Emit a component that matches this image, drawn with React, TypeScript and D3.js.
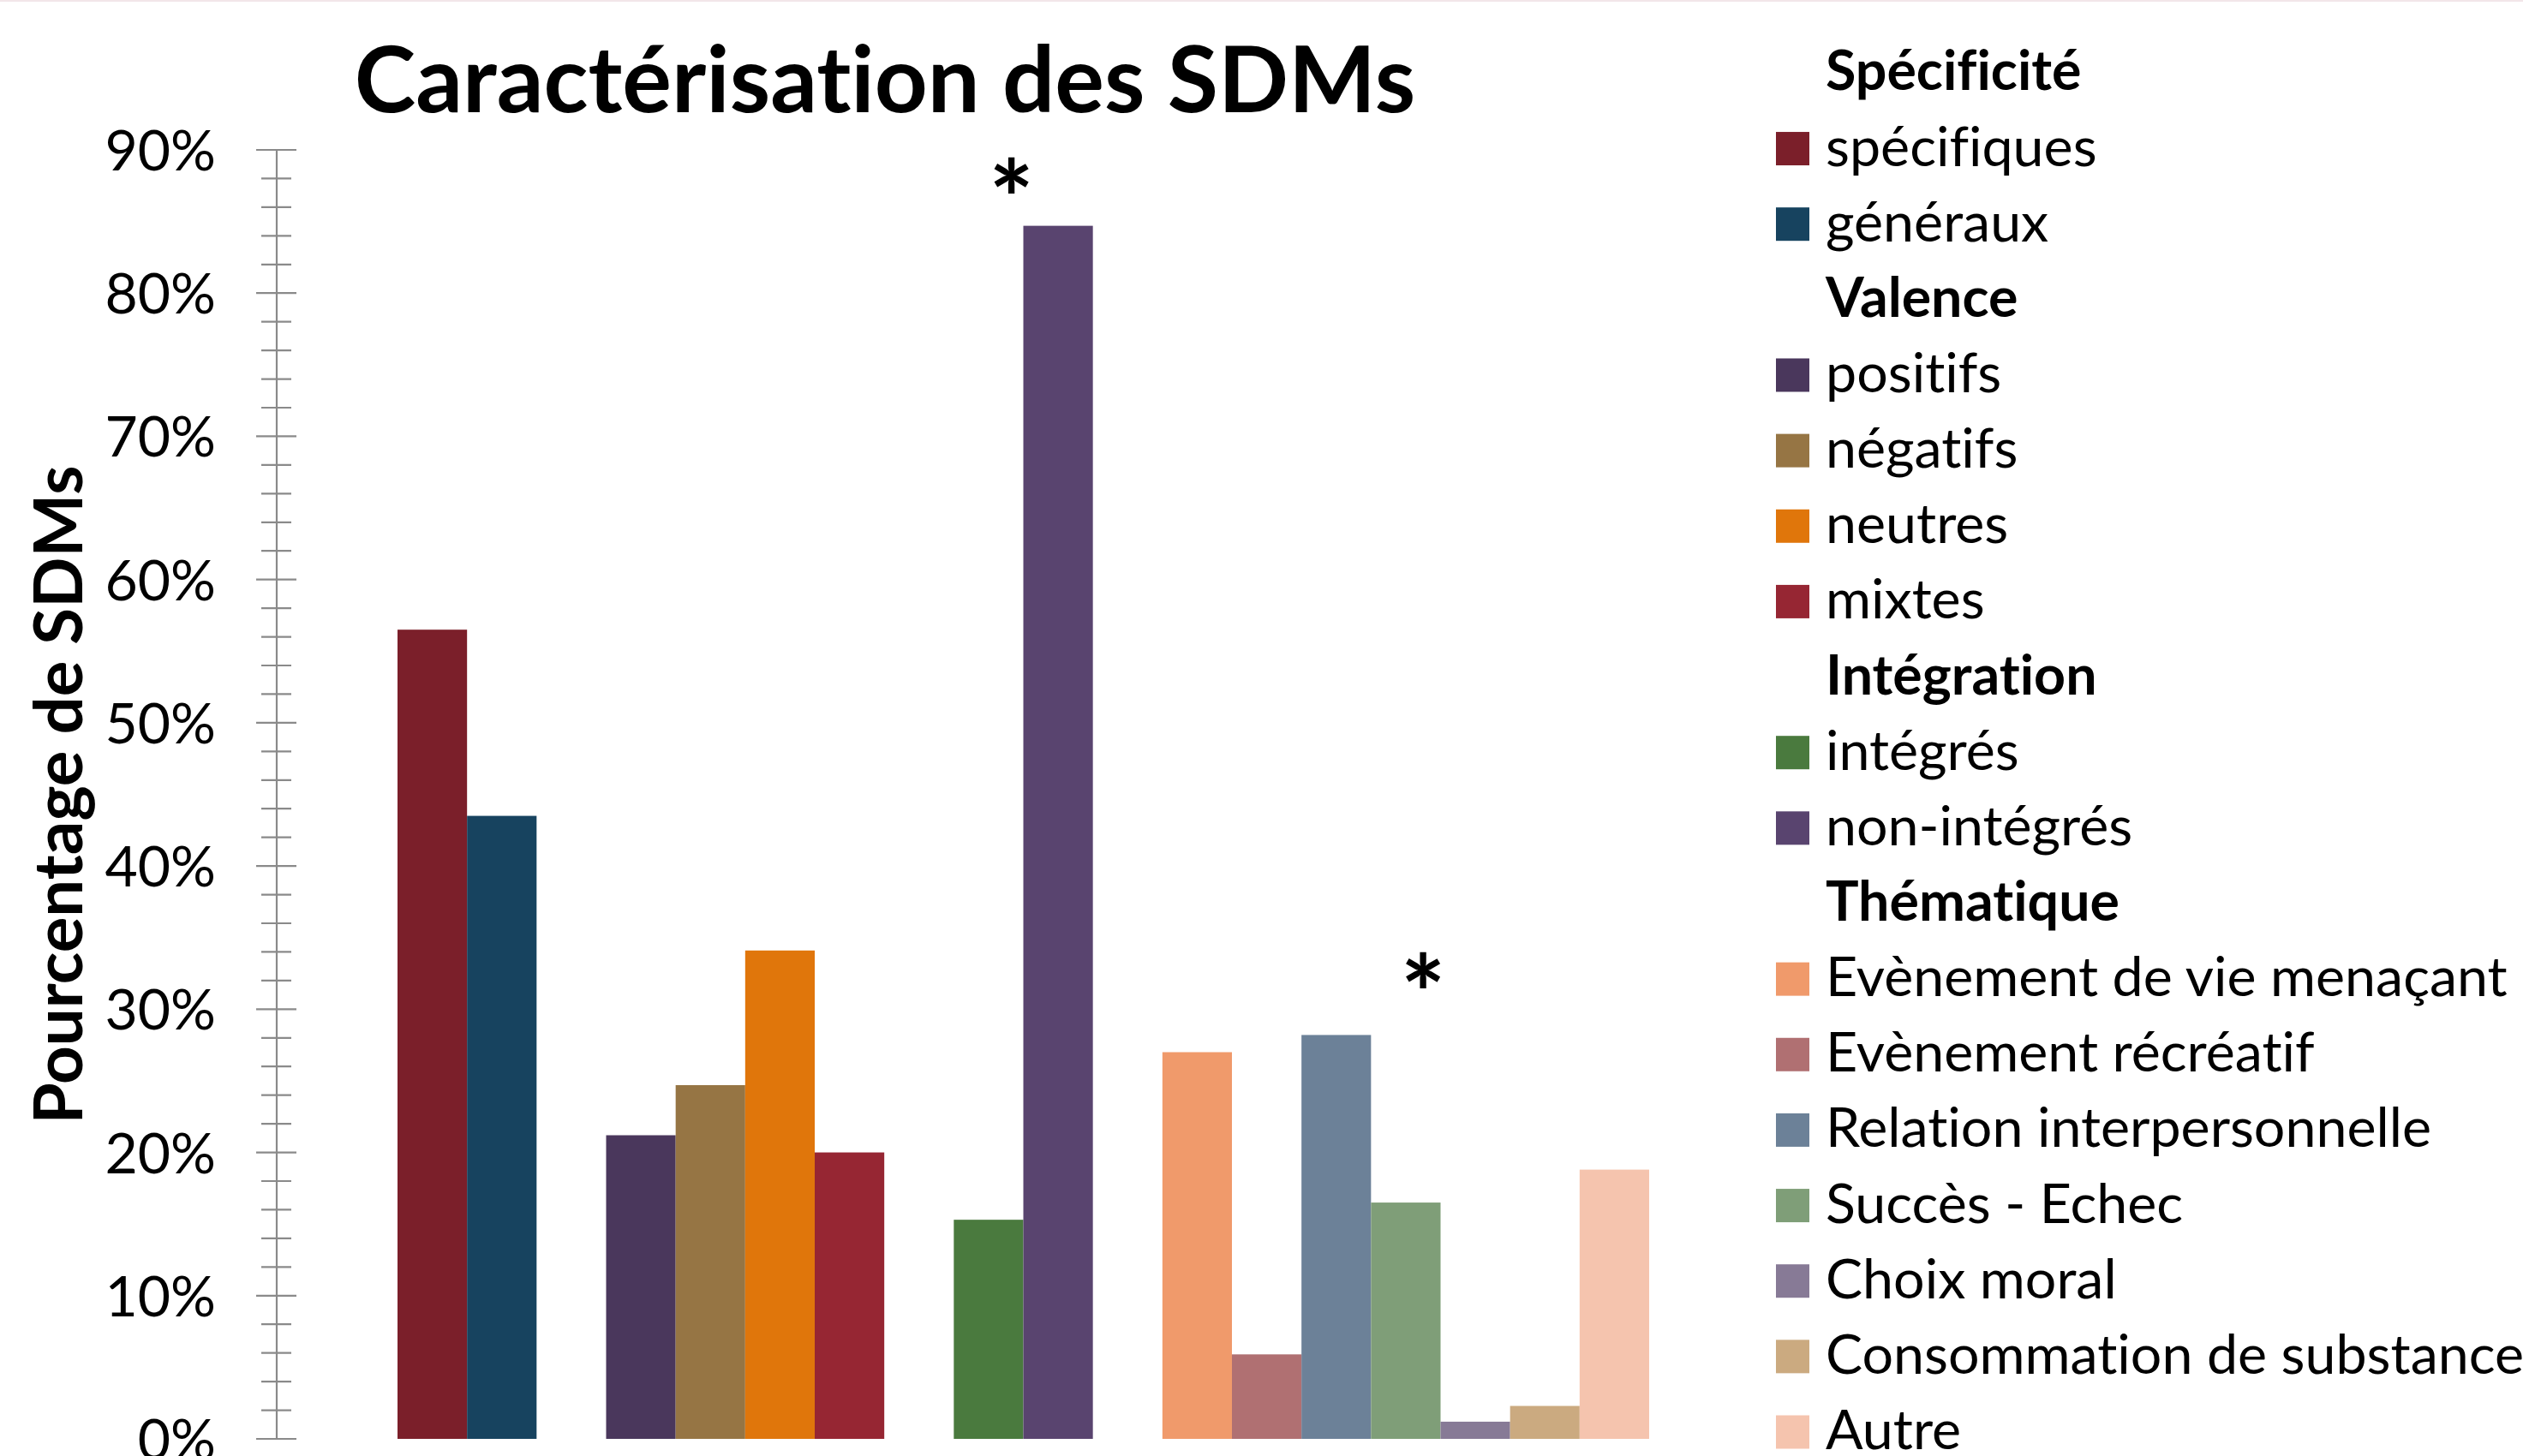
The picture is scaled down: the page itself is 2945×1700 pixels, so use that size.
import React from "react";
import * as d3 from "d3";

const W = 2945;
const H = 1700;

const chartTitle = "Caractérisation des SDMs";
const yAxisTitle = "Pourcentage de SDMs";

const groupTitles = ["Spécificité", "Valence", "Intégration", "Thématique"];

const specificiteLabels = ["spécifiques", "généraux"];
const specificiteValues = [56.5, 43.5];
const specificiteColors = ["#7B1F2A", "#17435F"];

const valenceLabels = ["positifs", "négatifs", "neutres", "mixtes"];
const valenceValues = [21.2, 24.7, 34.1, 20.0];
const valenceColors = ["#4A375C", "#967544", "#E0760B", "#962633"];

const integrationLabels = ["intégrés", "non-intégrés"];
const integrationValues = [15.3, 84.7];
const integrationColors = ["#4A7A3E", "#59446F"];

const thematiqueLabels = [
  "Evènement de vie menaçant",
  "Evènement récréatif",
  "Relation interpersonnelle",
  "Succès - Echec",
  "Choix moral",
  "Consommation de substance",
  "Autre",
];
const thematiqueValues = [27.0, 5.9, 28.2, 16.5, 1.2, 2.3, 18.8];
const thematiqueColors = ["#F09A6B", "#B07072", "#6C8198", "#7F9E78", "#877A96", "#CBAA80", "#F5C4AE"];

const yTickValues = [0, 10, 20, 30, 40, 50, 60, 70, 80, 90];
const yMinorStep = 2;

// significance markers: bar key, horizontal offset as fraction of bar width, height in %
const markerBars = ["non-intégrés", "Succès - Echec"];
const markerOffsets = [-0.17, 0.75];
const markerValues = [87.9, 32.4];

type Bar = { key: string; value: number; color: string };

const groups: { title: string; bars: Bar[] }[] = [
  { title: groupTitles[0], bars: specificiteLabels.map((k, i) => ({ key: k, value: specificiteValues[i], color: specificiteColors[i] })) },
  { title: groupTitles[1], bars: valenceLabels.map((k, i) => ({ key: k, value: valenceValues[i], color: valenceColors[i] })) },
  { title: groupTitles[2], bars: integrationLabels.map((k, i) => ({ key: k, value: integrationValues[i], color: integrationColors[i] })) },
  { title: groupTitles[3], bars: thematiqueLabels.map((k, i) => ({ key: k, value: thematiqueValues[i], color: thematiqueColors[i] })) },
];

const FONT = "Lato, 'Open Sans', sans-serif";

export default function App() {
  const slots: string[] = [];
  groups.forEach((g, gi) => {
    if (gi > 0) slots.push(`__gap${gi}`);
    g.bars.forEach((b) => slots.push(b.key));
  });
  const allBars: Bar[] = groups.flatMap((g) => g.bars);

  const axisX = 323;
  const x = d3.scaleBand<string>().domain(slots).range([464, 1925]).paddingInner(0).paddingOuter(0);
  const y = d3.scaleLinear().domain([0, 90]).range([1680, 175]);

  const minorTicks = d3.range(0, 90 + 0.001, yMinorStep).filter((v) => Math.abs(v % 10) > 0.001);

  type Row = { kind: "header" | "item"; label: string; color?: string };
  const rows: Row[] = [];
  groups.forEach((g) => {
    rows.push({ kind: "header", label: g.title });
    g.bars.forEach((b) => rows.push({ kind: "item", label: b.key, color: b.color }));
  });
  const legendY = d3.scaleLinear().domain([0, rows.length - 1]).range([85.4, 1672]);

  return (
    <svg
      width={W}
      height={H}
      viewBox={`0 0 ${W} ${H}`}
      style={{ position: "absolute", left: 0, top: 0, background: "#fff", fontVariantLigatures: "none" }}
      fontFamily={FONT}
    >
      <rect x={0} y={0} width={W} height={H} fill="#ffffff" />
      <rect x={0} y={0} width={W} height={2} fill="#f2e6e9" />

      <text x={1033} y={131} textAnchor="middle" fontSize={108} fontWeight={700} fill="#000">
        {chartTitle}
      </text>

      <text
        transform={`translate(96, 928) rotate(-90)`}
        textAnchor="middle"
        fontSize={78}
        fontWeight={700}
        fill="#000"
      >
        {yAxisTitle}
      </text>

      {allBars.map((b) => (
        <rect
          key={b.key}
          x={x(b.key)}
          y={y(b.value)}
          width={x.bandwidth()}
          height={y(0) - y(b.value)}
          fill={b.color}
        />
      ))}

      <g stroke="#8a8a8a" strokeWidth={2.2}>
        <line x1={axisX} x2={axisX} y1={y(90)} y2={y(0)} />
        {yTickValues.map((v) => (
          <line key={`M${v}`} x1={axisX - 24} x2={axisX + 23} y1={y(v)} y2={y(v)} />
        ))}
        {minorTicks.map((v) => (
          <line key={`m${v}`} x1={axisX - 18} x2={axisX + 17} y1={y(v)} y2={y(v)} />
        ))}
      </g>
      {yTickValues.map((v) => (
        <text key={`t${v}`} x={252} y={y(v) + 24} textAnchor="end" fontSize={66} fill="#000">
          {`${v}%`}
        </text>
      ))}

      {markerBars.map((k, i) => (
        <text
          key={`mk${i}`}
          x={(x(k) as number) + markerOffsets[i] * x.bandwidth()}
          y={y(markerValues[i]) + 68}
          textAnchor="middle"
          fontSize={124}
          fontWeight={700}
          fill="#000"
        >
          *
        </text>
      ))}

      {rows.map((r, i) => {
        const cy = legendY(i);
        return (
          <g key={`lg${i}`}>
            {r.kind === "item" && <rect x={2073} y={cy - 19.5} width={39} height={39} fill={r.color} />}
            <text
              x={2131}
              y={cy + 20}
              fontSize={64.5}
              fontWeight={r.kind === "header" ? 700 : 400}
              fill="#000"
            >
              {r.label}
            </text>
          </g>
        );
      })}
    </svg>
  );
}
